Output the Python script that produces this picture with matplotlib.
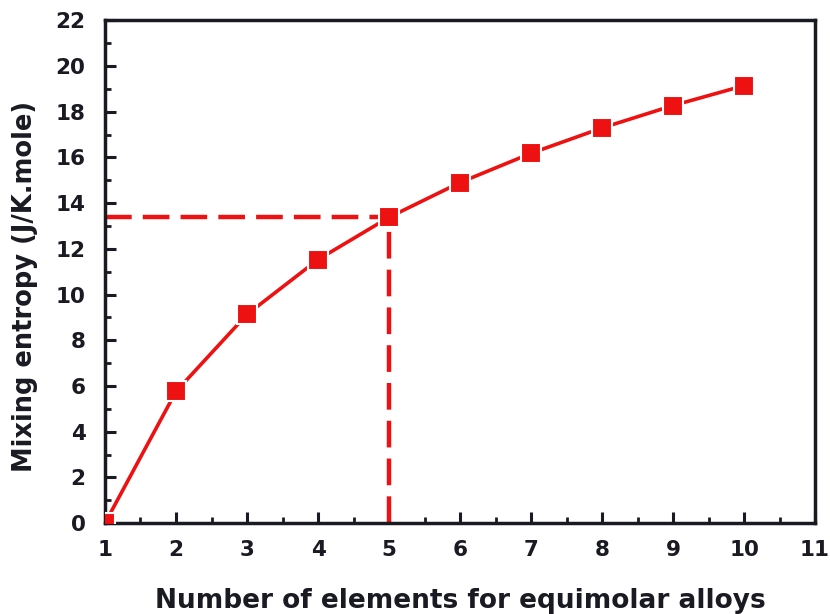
import numpy as np
import matplotlib
matplotlib.use("Agg")
import matplotlib.pyplot as plt
from matplotlib.ticker import MultipleLocator

# Mixing entropy of equimolar alloys vs. number of elements
n_elements = [1, 2, 3, 4, 5, 6, 7, 8, 9, 10]
entropy = [0.0, 5.76, 9.13, 11.53, 13.38, 14.90, 16.18, 17.29, 18.27, 19.14]

# highlighted 5-element alloy
mark_n = 5
mark_s = 13.38

plt.rcParams['font.family'] = ['DejaVu Sans']
plt.rcParams['font.weight'] = 'bold'

red = '#ee1111'
ink = '#1a1a22'

fig = plt.figure(figsize=(8.3, 6.14), dpi=100)
ax = fig.add_axes([0.1265, 0.148, 0.8555, 0.819])

# guide lines to the 5-element point
ax.plot([1, mark_n], [mark_s, mark_s], color=red, lw=3.2, ls=(0, (6, 2.5)), zorder=2)
ax.plot([mark_n, mark_n], [0, mark_s], color=red, lw=3.2, ls=(0, (6, 2.5)), zorder=2)

ax.plot(n_elements, entropy, color=red, lw=2.6, marker='s', ms=14,
        mfc=red, mec='white', mew=1.5, zorder=3)

ax.set_xlim(1, 11)
ax.set_ylim(0, 22)
ax.xaxis.set_major_locator(MultipleLocator(1))
ax.xaxis.set_minor_locator(MultipleLocator(0.5))
ax.yaxis.set_major_locator(MultipleLocator(2))
ax.yaxis.set_minor_locator(MultipleLocator(1))

for s in ax.spines.values():
    s.set_linewidth(2.5)
    s.set_color(ink)

ax.tick_params(which='major', direction='in', length=8, width=2.2,
               labelsize=15.5, colors=ink)
ax.tick_params(axis='x', which='major', pad=12)
ax.tick_params(axis='y', which='major', pad=14)
ax.tick_params(which='minor', direction='in', length=4, width=2.0, colors=ink)

ax.set_xlabel('Number of elements for equimolar alloys', fontsize=19,
              fontweight='bold', labelpad=20, color=ink)
ax.set_ylabel('Mixing entropy (J/K.mole)', fontsize=18.5,
              fontweight='bold', color=ink)
ax.yaxis.set_label_coords(-0.094, 0.47)

fig.savefig('out.png', dpi=100)
